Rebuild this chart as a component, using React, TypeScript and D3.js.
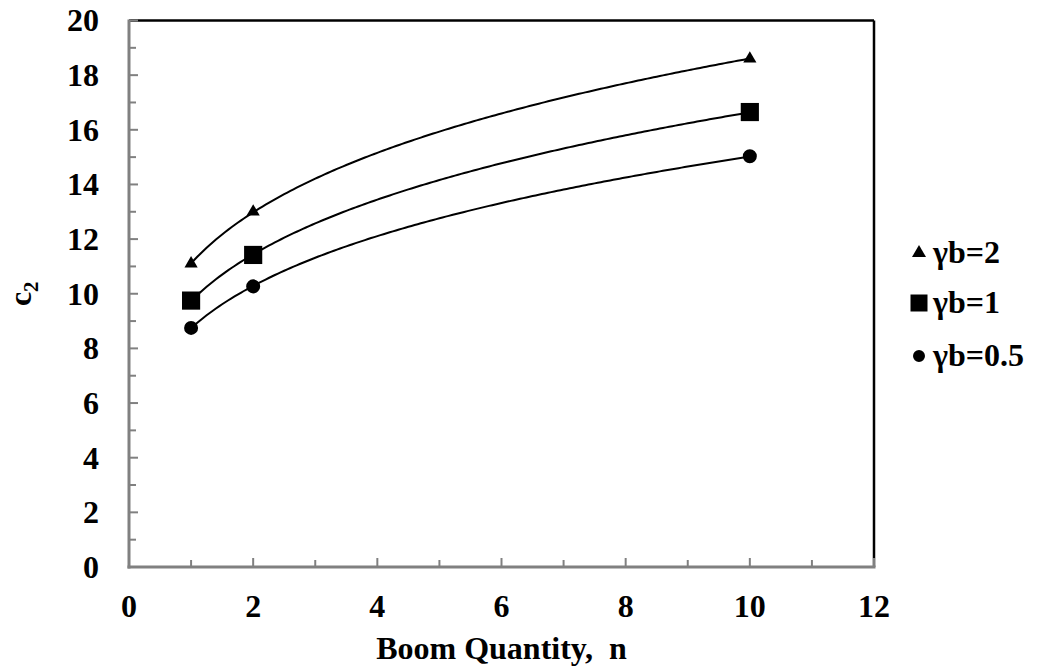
import React from "react";
import * as d3 from "d3";

// Boom quantity n and the coefficient c2 for three values of γb
const boomCounts = [1, 2, 10];
const c2GammaB2 = [11.1, 13.0, 18.6];
const c2GammaB1 = [9.75, 11.42, 16.65];
const c2GammaB05 = [8.75, 10.27, 15.03];
const seriesLabels = ["γb=2", "γb=1", "γb=0.5"];
const xTickValues = [0, 2, 4, 6, 8, 10, 12];
const yTickValues = [0, 2, 4, 6, 8, 10, 12, 14, 16, 18, 20];

const W = 1037;
const H = 670;
const FONT = "Liberation Serif, DejaVu Serif, serif";

// Least-squares power trendline y = a * x^b, fitted in log space
function powerFit(xs: number[], ys: number[]) {
  const lx = xs.map(Math.log);
  const ly = ys.map(Math.log);
  const mx = d3.mean(lx)!;
  const my = d3.mean(ly)!;
  let sxy = 0;
  let sxx = 0;
  lx.forEach((v, i) => {
    sxy += (v - mx) * (ly[i] - my);
    sxx += (v - mx) * (v - mx);
  });
  const b = sxy / sxx;
  const a = Math.exp(my - b * mx);
  return (x: number) => a * Math.pow(x, b);
}

const textStyle: React.CSSProperties = {
  fontFamily: FONT,
  fontWeight: 700,
  fontSize: 32,
};

export default function App() {
  const x = d3.scaleLinear().domain([0, 12]).range([129, 874]);
  const y = d3.scaleLinear().domain([0, 20]).range([567, 20.5]);

  const series = [
    { label: seriesLabels[0], values: c2GammaB2, symbol: d3.symbolTriangle, size: 75, legendSize: 85 },
    { label: seriesLabels[1], values: c2GammaB1, symbol: d3.symbolSquare, size: 330, legendSize: 289 },
    { label: seriesLabels[2], values: c2GammaB05, symbol: d3.symbolCircle, size: 154, legendSize: 113 },
  ];

  const nMin = d3.min(boomCounts)!;
  const nMax = d3.max(boomCounts)!;
  const samples = d3.range(nMin, nMax + 1e-9, 0.05);

  const line = d3
    .line<[number, number]>()
    .x((d) => x(d[0]))
    .y((d) => y(d[1]));

  const xMinor = d3.range(1, 12, 2);
  const yMinor = d3.range(1, 20, 2);

  const left = x(0);
  const right = x(12);
  const top = y(20);
  const bottom = y(0);

  const legendY = [253, 303, 356];

  return (
    <svg
      width={W}
      height={H}
      style={{ position: "absolute", left: 0, top: 0, background: "#fff" }}
    >
      <rect x={0} y={0} width={W} height={H} fill="#fff" />

      {/* plot frame: top and right edges */}
      <line x1={left} x2={right} y1={top} y2={top} stroke="#000" strokeWidth={2.5} />
      <line x1={right} x2={right} y1={top} y2={bottom} stroke="#000" strokeWidth={2.5} />

      {/* trendlines */}
      {series.map((s) => {
        const f = powerFit(boomCounts, s.values);
        const pts: [number, number][] = samples.map((n) => [n, f(n)]);
        return (
          <path
            key={"l" + s.label}
            d={line(pts) || ""}
            fill="none"
            stroke="#000"
            strokeWidth={2}
          />
        );
      })}

      {/* markers */}
      {series.map((s) =>
        s.values.map((v, i) => (
          <path
            key={s.label + i}
            d={d3.symbol(s.symbol, s.size)() || ""}
            transform={`translate(${x(boomCounts[i])},${y(v)})`}
            fill="#000"
          />
        ))
      )}

      {/* y axis */}
      {yTickValues.map((t) => (
        <g key={"yt" + t}>
          <line x1={left} x2={left + 9} y1={y(t)} y2={y(t)} stroke="#808080" strokeWidth={2} />
          <text x={99} y={y(t)} dy="0.34em" textAnchor="end" style={textStyle}>
            {t}
          </text>
        </g>
      ))}
      {yMinor.map((t) => (
        <line key={"ym" + t} x1={left} x2={left + 7} y1={y(t)} y2={y(t)} stroke="#808080" strokeWidth={2} />
      ))}

      {/* x axis */}
      {xTickValues.map((t) => (
        <g key={"xt" + t}>
          <line x1={x(t)} x2={x(t)} y1={bottom} y2={bottom - 9} stroke="#808080" strokeWidth={2} />
          <text x={x(t)} y={617} textAnchor="middle" style={textStyle}>
            {t}
          </text>
        </g>
      ))}
      {xMinor.map((t) => (
        <line key={"xm" + t} x1={x(t)} x2={x(t)} y1={bottom} y2={bottom - 7} stroke="#808080" strokeWidth={2} />
      ))}

      <line x1={left} x2={left} y1={top - 1} y2={bottom + 1.5} stroke="#808080" strokeWidth={3} />
      <line x1={left - 1.5} x2={right + 1.5} y1={bottom} y2={bottom} stroke="#808080" strokeWidth={3} />

      {/* axis titles */}
      <text x={(left + right) / 2} y={659} textAnchor="middle" style={{ ...textStyle, whiteSpace: "pre" }}>
        {"Boom Quantity,  n"}
      </text>
      <text transform={`translate(31,${(top + bottom) / 2}) rotate(-90)`} textAnchor="middle" style={textStyle}>
        c
        <tspan style={{ ...textStyle, fontSize: 21 }} dy={7}>
          2
        </tspan>
      </text>

      {/* legend */}
      {series.map((s, i) => (
        <g key={"lg" + s.label} transform={`translate(0,${legendY[i]})`}>
          <path d={d3.symbol(s.symbol, s.legendSize)() || ""} transform="translate(919,0)" fill="#000" />
          <text x={933} y={0} dy="0.32em" style={textStyle}>
            {s.label}
          </text>
        </g>
      ))}
    </svg>
  );
}
